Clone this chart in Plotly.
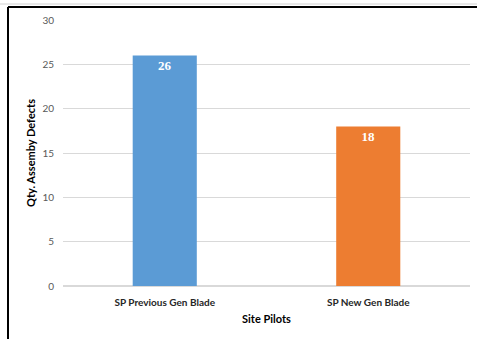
import plotly.graph_objects as go

categories = ["SP Previous Gen Blade", "SP New Gen Blade"]
defects = [26, 18]
colors = ["#5B9BD5", "#ED7D31"]
y_ticks = [0, 5, 10, 15, 20, 25, 30]

L, R, T, B = 63, 7, 20, 53
W, H = 477, 339
pw, ph = W - L - R, H - T - B

def px_x(px):
    return (px - L) / pw

def px_y(py):
    return (H - B - py) / ph

fig = go.Figure(go.Bar(
    x=categories, y=defects, marker=dict(color=colors, line=dict(width=0)),
    width=0.315, text=[str(v) for v in defects], textposition="inside",
    insidetextanchor="end",
    textfont=dict(family="Liberation Serif", size=13, color="white", weight="bold"),
))

fig.update_layout(
    width=W, height=H, margin=dict(l=L, r=R, t=T, b=B),
    paper_bgcolor="white", plot_bgcolor="white", showlegend=False,
    font=dict(family="Lato", color="#404040"),
    xaxis=dict(
        showgrid=False, showline=False, ticks="",
        tickfont=dict(size=10, color="#262626", weight="bold"),
        ticklabelstandoff=9,
        title=dict(text="<b>Site Pilots</b>", font=dict(size=11, color="#000000"), standoff=8),
    ),
    yaxis=dict(
        range=[0, 30], tickvals=y_ticks, showgrid=True, gridcolor="#D9D9D9",
        zeroline=True, zerolinecolor="#D9D9D9", showline=False,
        tickfont=dict(size=10, color="#595959"), ticklabelstandoff=8,
        title=dict(text="<b>Qty. Assemby Defects</b>", font=dict(size=11, color="#000000"), standoff=4),
    ),
    shapes=[
        dict(type="line", xref="paper", yref="paper", x0=px_x(8), x1=px_x(8),
             y0=px_y(7), y1=px_y(339), line=dict(color="black", width=2)),
        dict(type="line", xref="paper", yref="paper", x0=px_x(8), x1=px_x(477),
             y0=px_y(7), y1=px_y(7), line=dict(color="black", width=2)),
        dict(type="line", xref="paper", yref="paper", x0=px_x(0), x1=px_x(477),
             y0=px_y(4), y1=px_y(4), line=dict(color="#D0D0D0", width=1)),
    ],
)

fig.write_html("out.html")
